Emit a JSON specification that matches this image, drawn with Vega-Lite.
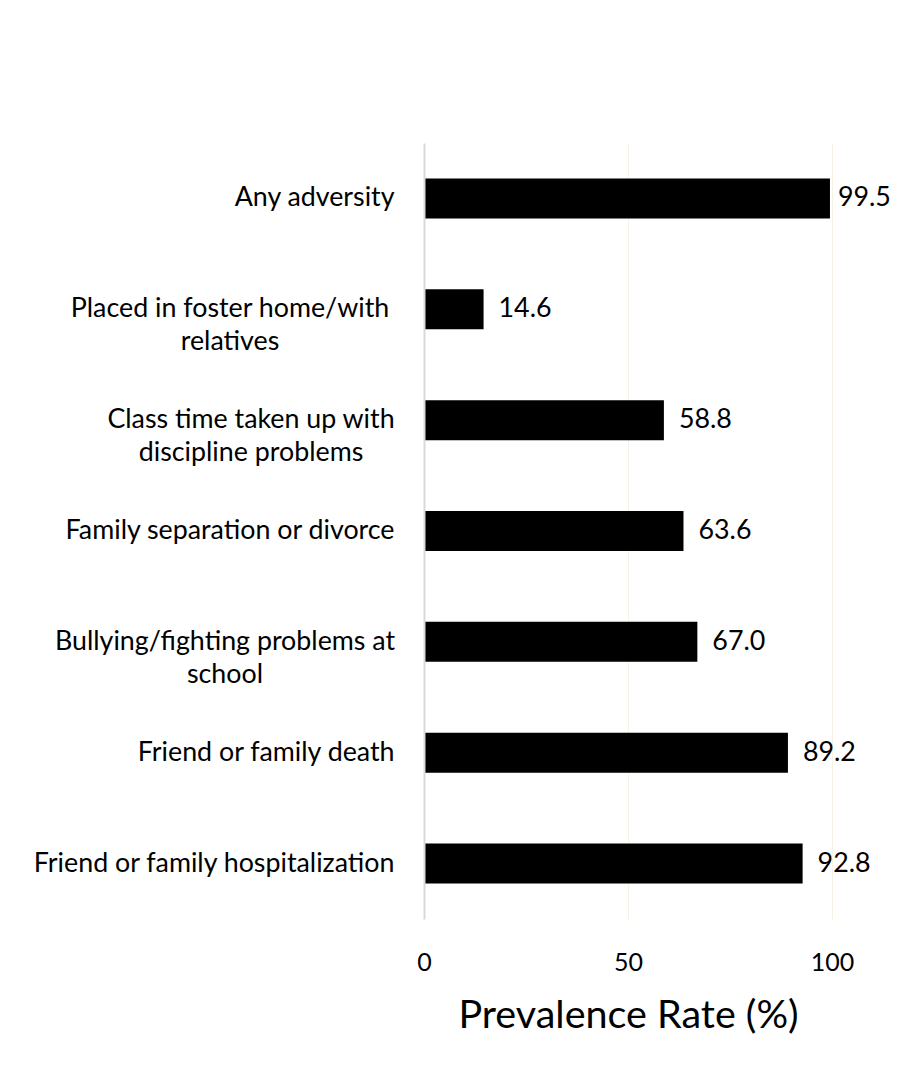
{
  "$schema": "https://vega.github.io/schema/vega-lite/v6.json",
  "autosize": {"type": "none"},
  "padding": {"left": 424, "top": 143, "right": 65, "bottom": 148},
  "width": 408,
  "height": 776,
  "background": "#ffffff",
  "config": {
    "view": {"stroke": null},
    "font": "Lato",
    "axis": {"labelFont": "Lato", "titleFont": "Lato", "labelColor": "#000000", "titleColor": "#000000"}
  },
  "data": {
    "values": [
      {"category": "Any adversity", "rate": 99.5},
      {"category": "Placed in foster home/with relatives", "rate": 14.6},
      {"category": "Class time taken up with discipline problems", "rate": 58.8},
      {"category": "Family separation or divorce", "rate": 63.6},
      {"category": "Bullying/fighting problems at school", "rate": 67.0},
      {"category": "Friend or family death", "rate": 89.2},
      {"category": "Friend or family hospitalization", "rate": 92.8}
    ]
  },
  "encoding": {
    "y": {
      "field": "category",
      "type": "nominal",
      "sort": null,
      "scale": {"paddingInner": 0.639, "paddingOuter": 0.3195},
      "axis": {
        "title": null,
        "ticks": false,
        "grid": false,
        "domain": true,
        "domainColor": "#d9d9d9",
        "domainWidth": 2,
        "zindex": 1,
        "labelFontSize": 26.8,
        "labelPadding": 30,
        "labelLimit": 500,
        "labelExpr": "indexof(['Placed in foster home/with relatives','Class time taken up with discipline problems','Bullying/fighting problems at school'], datum.value) >= 0 ? '' : datum.label"
      }
    },
    "x": {
      "field": "rate",
      "type": "quantitative",
      "scale": {"domain": [0, 100], "nice": false},
      "axis": {
        "title": "Prevalence Rate (%)",
        "titleFontSize": 39.5,
        "titleFontWeight": "normal",
        "titlePadding": 21,
        "values": [0, 50, 100],
        "domain": false,
        "ticks": false,
        "grid": true,
        "gridColor": "#f8f2e4",
        "gridWidth": 1,
        "labelFontSize": 25,
        "labelPadding": 31,
        "labelFlush": false
      }
    }
  },
  "layer": [
    {"mark": {"type": "bar", "color": "#000000"}},
    {
      "transform": [{"filter": "datum.rate < 99"}],
      "mark": {"type": "text", "align": "left", "baseline": "middle", "dx": 15, "fontSize": 26.8, "font": "Lato", "color": "#000000"},
      "encoding": {"text": {"field": "rate", "type": "quantitative", "format": ".1f"}}
    },
    {
      "transform": [{"filter": "datum.rate >= 99"}],
      "mark": {"type": "text", "align": "left", "baseline": "middle", "dx": 8, "fontSize": 26.8, "font": "Lato", "color": "#000000"},
      "encoding": {"text": {"field": "rate", "type": "quantitative", "format": ".1f"}}
    },
    {
      "transform": [{"filter": "datum.category == 'Placed in foster home/with relatives'"}],
      "mark": {"type": "text", "align": "center", "baseline": "middle", "dx": -194, "lineHeight": 33, "fontSize": 26.8, "font": "Lato", "color": "#000000"},
      "encoding": {"x": {"datum": 0}, "text": {"value": ["Placed in foster home/with", "relatives"]}}
    },
    {
      "transform": [{"filter": "datum.category == 'Class time taken up with discipline problems'"}],
      "mark": {"type": "text", "align": "center", "baseline": "middle", "dx": -173, "lineHeight": 33, "fontSize": 26.8, "font": "Lato", "color": "#000000"},
      "encoding": {"x": {"datum": 0}, "text": {"value": ["Class time taken up with", "discipline problems"]}}
    },
    {
      "transform": [{"filter": "datum.category == 'Bullying/fighting problems at school'"}],
      "mark": {"type": "text", "align": "center", "baseline": "middle", "dx": -199, "lineHeight": 33, "fontSize": 26.8, "font": "Lato", "color": "#000000"},
      "encoding": {"x": {"datum": 0}, "text": {"value": ["Bullying/fighting problems at", "school"]}}
    }
  ]
}
